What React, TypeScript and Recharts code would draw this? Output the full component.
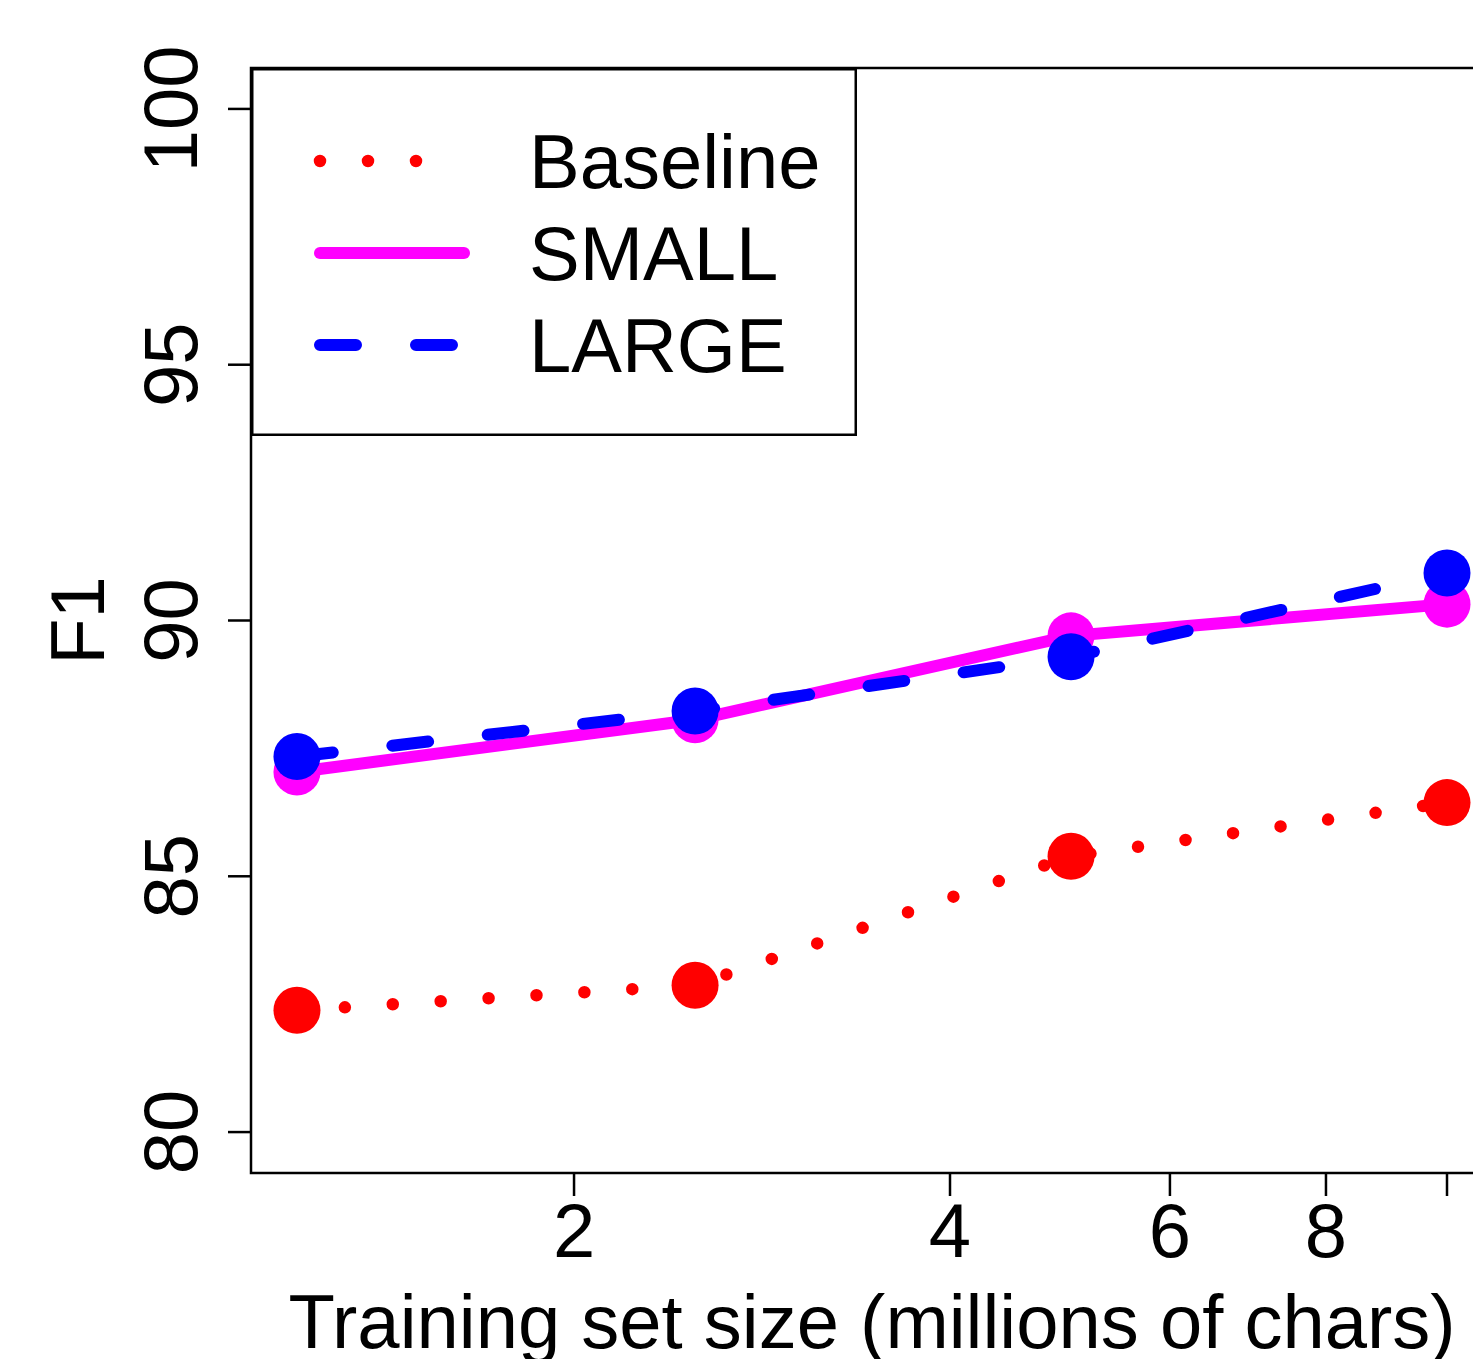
import { LineChart, Line, XAxis, YAxis, Legend, ReferenceArea, Label } from 'recharts';

const sizes = [1.2, 2.5, 5, 10];
const baseline = [82.38, 82.87, 85.39, 86.44];
const small = [87.04, 88.06, 89.7, 90.32];
const large = [87.34, 88.23, 89.29, 90.93];
const xTicks = [2, 4, 6, 8, 10];
const xTickLabels = ['2', '4', '6', '8', ''];
const yTicks = [80, 85, 90, 95, 100];
const seriesKeys = ['baseline', 'small', 'large'];
const seriesNames = ['Baseline', 'SMALL', 'LARGE'];

const X_DOMAIN: [number, number] = [1.1025, 10.885];
const Y_DOMAIN: [number, number] = [79.2, 100.8];

const FONT = '"Liberation Sans", Arial, sans-serif';
const FS = 76;

const data = sizes.map((x, i) => ({
  x,
  baseline: baseline[i],
  small: small[i],
  large: large[i],
}));

const styles: Record<string, { color: string; dash?: string; width: number }> = {
  baseline: { color: '#ff0000', dash: '0 48', width: 12.5 },
  small: { color: '#ff00ff', width: 12 },
  large: { color: '#0000ff', dash: '36 60', width: 12 },
};

const XTick = (props: any) => {
  const { x, y, payload, index } = props;
  return (
    <text x={x} y={y} dy="0.71em" textAnchor="middle" fontSize={FS} fontFamily={FONT} fill="#000">
      {xTickLabels[index] ?? payload.value}
    </text>
  );
};

const YTick = (props: any) => {
  const { x, y, payload } = props;
  return (
    <text
      x={x}
      y={y}
      transform={`rotate(-90 ${x} ${y})`}
      textAnchor="middle"
      fontSize={FS}
      fontFamily={FONT}
      fill="#000"
    >
      {payload.value}
    </text>
  );
};

const XTitle = (props: any) => {
  const vb = props.viewBox;
  return (
    <text x={vb.x + vb.width / 2} y={vb.y + 175} textAnchor="middle" fontSize={FS} fontFamily={FONT} fill="#000">
      Training set size (millions of chars)
    </text>
  );
};

const YTitle = (props: any) => {
  const vb = props.viewBox;
  const cx = vb.x + 104;
  const cy = vb.y + vb.height / 2;
  return (
    <text x={cx} y={cy} transform={`rotate(-90 ${cx} ${cy})`} textAnchor="middle" fontSize={FS} fontFamily={FONT} fill="#000">
      F1
    </text>
  );
};

// legend keeps the plotting order, not recharts' sorted one
const LegendBox = (props: any) => {
  const payload = props.payload || [];
  const ordered = seriesKeys
    .map((k) => payload.find((p: any) => p.dataKey === k))
    .filter(Boolean);
  return (
    <svg width={606} height={368} style={{ display: 'block' }}>
      <rect x={1.25} y={1.25} width={603.5} height={365.5} fill="#fff" stroke="#000" strokeWidth={2.5} />
      {ordered.map((entry: any, i: number) => {
        const st = styles[entry.dataKey];
        const ly = 93 + i * 92;
        return (
          <g key={entry.dataKey}>
            <line
              x1={69}
              x2={213}
              y1={ly}
              y2={ly}
              stroke={st.color}
              strokeWidth={st.width}
              strokeDasharray={st.dash}
              strokeLinecap="round"
            />
            <text x={278} y={120 + i * 92} fontSize={FS} fontFamily={FONT} fill="#000">
              {entry.value}
            </text>
          </g>
        );
      })}
    </svg>
  );
};

export default function App() {
  return (
    <div style={{ position: 'absolute', left: 0, top: 0, width: 1473, height: 1359, overflow: 'hidden', background: '#fff' }}>
      <LineChart width={1520} height={1359} data={data} margin={{ top: 68, right: 27, bottom: 0, left: 0 }}>
        <XAxis
          dataKey="x"
          type="number"
          scale="log"
          domain={X_DOMAIN}
          allowDataOverflow
          ticks={xTicks}
          interval={0}
          height={186}
          tickSize={23}
          tickMargin={7}
          tickLine={{ stroke: '#000', strokeWidth: 2.5 }}
          axisLine={false}
          tick={<XTick />}
        >
          <Label content={<XTitle />} />
        </XAxis>
        <YAxis
          type="number"
          domain={Y_DOMAIN}
          allowDataOverflow
          ticks={yTicks}
          interval={0}
          width={251}
          tickSize={23}
          tickMargin={31}
          tickLine={{ stroke: '#000', strokeWidth: 2.5 }}
          axisLine={false}
          tick={<YTick />}
        >
          <Label content={<YTitle />} />
        </YAxis>
        <ReferenceArea
          x1={X_DOMAIN[0]}
          x2={X_DOMAIN[1]}
          y1={Y_DOMAIN[0]}
          y2={Y_DOMAIN[1]}
          fill="none"
          fillOpacity={0}
          stroke="#000"
          strokeWidth={2.5}
          ifOverflow="visible"
        />
        {seriesKeys.map((key, i) => (
          <Line
            key={key}
            dataKey={key}
            name={seriesNames[i]}
            type="linear"
            stroke={styles[key].color}
            strokeWidth={styles[key].width}
            strokeDasharray={styles[key].dash}
            strokeLinecap="round"
            dot={{ r: 23.5, fill: styles[key].color, stroke: 'none', strokeWidth: 0 }}
            activeDot={false}
            isAnimationActive={false}
          />
        ))}
        <Legend
          layout="vertical"
          align="center"
          verticalAlign="middle"
          content={<LegendBox />}
          wrapperStyle={{ position: 'absolute', left: 251, top: 68, width: 606, height: 368 }}
        />
      </LineChart>
    </div>
  );
}
